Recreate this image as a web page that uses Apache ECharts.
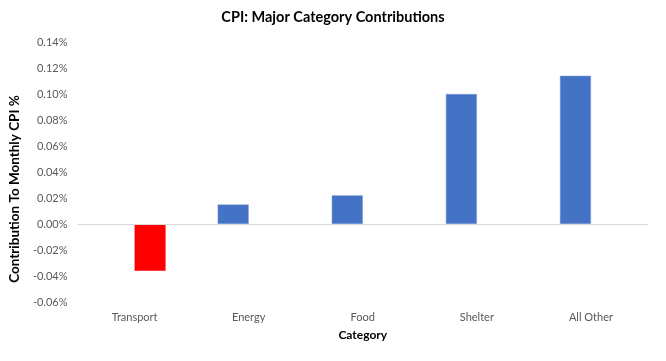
<!DOCTYPE html>
<html>
<head>
<meta charset="utf-8">
<script src="https://cdn.jsdelivr.net/npm/echarts@6/dist/echarts.min.js"></script>
<style>
html,body{margin:0;padding:0;background:#fff;}
#chart{width:666px;height:361px;}
</style>
</head>
<body>
<div id="chart"></div>
<script>
var categories = ['Transport', 'Energy', 'Food', 'Shelter', 'All Other'];
var positiveValues = [null, 0.015, 0.022, 0.100, 0.114];
var negativeValues = [-0.036, null, null, null, null];
var yTicks = { min: -0.06, max: 0.14, interval: 0.02 };

var FONT = 'Lato, "Open Sans", sans-serif';
var chart = echarts.init(document.getElementById('chart'), null, { renderer: 'canvas' });
chart.setOption({
  animation: false,
  backgroundColor: '#ffffff',
  title: {
    text: 'CPI: Major Category Contributions',
    left: 'center',
    top: 5,
    textStyle: { fontFamily: FONT, fontSize: 14.5, fontWeight: 'bold', color: '#000000' }
  },
  grid: { left: 71, right: 18, top: 42, bottom: 59, containLabel: false },
  xAxis: {
    type: 'category',
    data: categories,
    name: 'Category',
    nameLocation: 'middle',
    nameGap: 27,
    nameTextStyle: { fontFamily: FONT, fontSize: 12, fontWeight: 'bold', color: '#000000' },
    axisLine: { show: false, onZero: false },
    axisTick: { show: false },
    axisLabel: { fontFamily: FONT, fontSize: 11, color: '#595959', margin: 10 },
    splitLine: { show: false }
  },
  yAxis: {
    type: 'value',
    min: yTicks.min,
    max: yTicks.max,
    interval: yTicks.interval,
    name: 'Contribution To Monthly CPI %',
    nameLocation: 'middle',
    nameGap: 49,
    nameTextStyle: { fontFamily: FONT, fontSize: 13.5, fontWeight: 'bold', color: '#000000', padding: [0, 34, 0, 0] },
    axisLine: { show: false },
    axisTick: { show: false },
    splitLine: { show: false },
    axisLabel: {
      fontFamily: FONT, fontSize: 11, color: '#595959', margin: 10,
      formatter: function (v) { return v.toFixed(2) + '%'; }
    }
  },
  series: [
    {
      type: 'bar',
      name: 'Positive',
      data: positiveValues,
      barWidth: 31,
      barGap: '0%',
      itemStyle: { color: '#4472C4', borderColor: '#7b9ad6', borderWidth: 0.5 },
      markLine: {
        silent: true,
        symbol: ['none', 'none'],
        label: { show: false },
        lineStyle: { color: '#d9d9d9', width: 1, type: 'solid' },
        data: [{ yAxis: 0 }]
      }
    },
    {
      type: 'bar',
      name: 'Negative',
      data: negativeValues,
      barWidth: 31,
      barGap: '0%',
      itemStyle: { color: '#FF0000' }
    }
  ]
});
</script>
</body>
</html>
